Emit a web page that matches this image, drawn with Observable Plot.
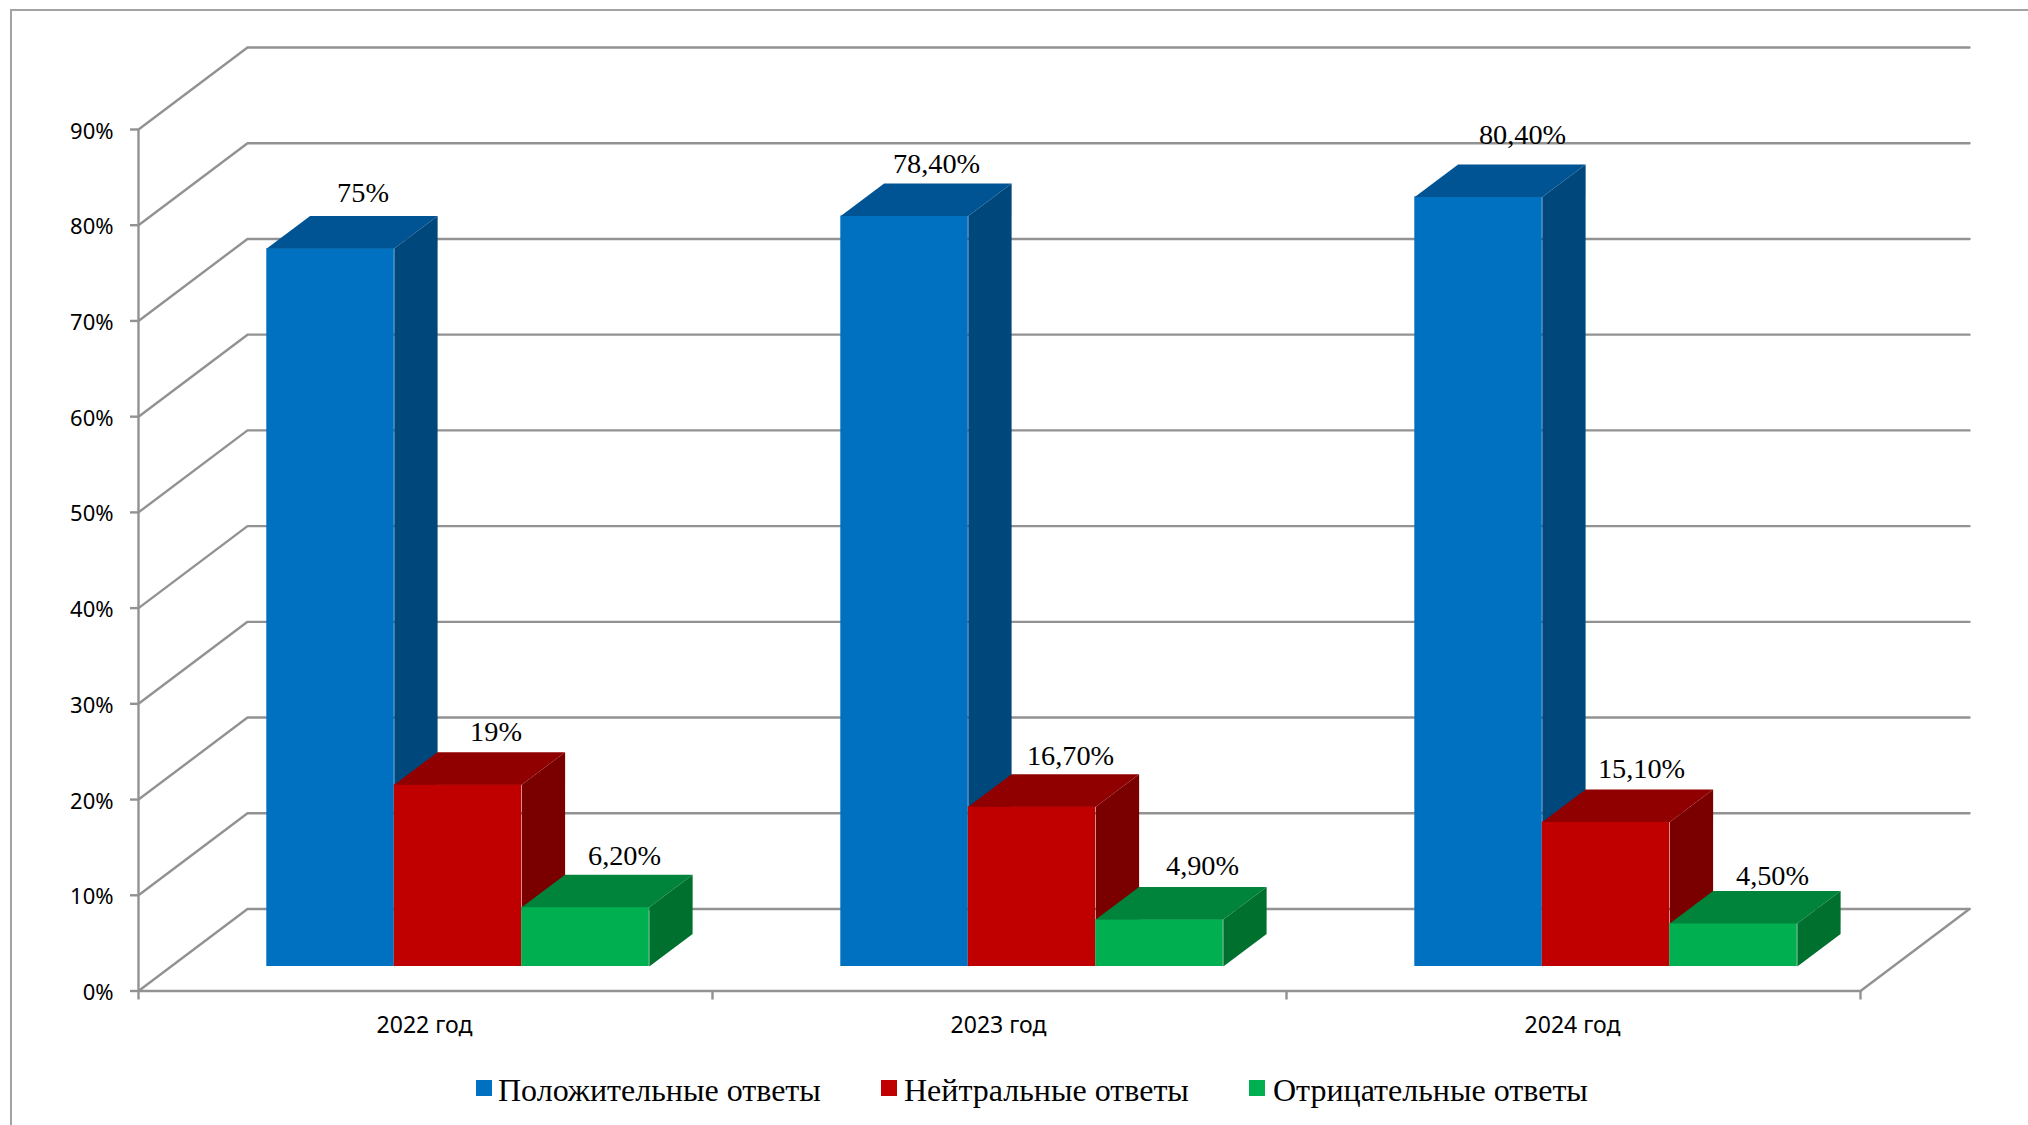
<!DOCTYPE html>
<html lang="ru">
<head>
<meta charset="utf-8">
<title>Chart</title>
<script src="https://cdn.jsdelivr.net/npm/d3@7"></script>
<script src="https://cdn.jsdelivr.net/npm/@observablehq/plot@0.6"></script>
<style>
html,body{margin:0;padding:0;background:#fff;width:2028px;height:1125px;overflow:hidden;position:relative}
svg{display:block}
#frame{position:absolute;left:10px;top:9px;right:0;bottom:0;border-left:2px solid #a3a3a3;border-top:2px solid #a3a3a3;pointer-events:none}
#legend{position:absolute;left:0;top:1040px;height:85px;width:2028px;font-family:"Liberation Serif",serif;font-size:32px;color:#000}
.item{position:absolute;top:30px;line-height:40px;white-space:nowrap}
.sw{position:absolute;top:40px;width:16px;height:16px}
</style>
</head>
<body>
<div id="chart"></div>
<div id="legend"></div>
<div id="frame"></div>
<script>
const categories = ["2022 год", "2023 год", "2024 год"];
const seriesNames = ["Положительные ответы", "Нейтральные ответы", "Отрицательные ответы"];
const positive = [75, 78.4, 80.4];
const neutral = [19, 16.7, 15.1];
const negative = [6.2, 4.9, 4.5];
const valueLabels = [
  ["75%", "78,40%", "80,40%"],
  ["19%", "16,70%", "15,10%"],
  ["6,20%", "4,90%", "4,50%"]
];
const yTicks = [0, 10, 20, 30, 40, 50, 60, 70, 80, 90];

const frontColors = ["#0070C0", "#C00000", "#00B050"];
const topColors = ["#005494", "#900000", "#00843C"];
const sideColors = ["#00477B", "#7A0000", "#00702F"];

// layout, in pixels
const W = 2028, H = 1040, left = 138, right = 1860, yTop = 129, yZero = 990.5;
const pxX = (right - left) / 3, pxY = (yZero - yTop) / 90;
const u = p => p / pxX, v = p => p / pxY;
const wallX = u(109), wallY = v(82);
const depthX = u(43.3), depthY = v(32.5);
const barStart = u(128.3), barWidth = u(127.5), barBase = v(24.5);
const labelShift = [[32.5, 32, 44], [38, 38.5, 35.5], [39, 43, 39]];
const labelRise = [[23, 19.2, 29.5], [19.7, 18.7, 21], [19, 21, 15]];

const seriesValues = [positive, neutral, negative];

const wallLines = yTicks.flatMap(t => [
  {k: t, x: 0, y: t},
  {k: t, x: wallX, y: t + wallY},
  {k: t, x: 3 + wallX, y: t + wallY}
]);
const floorLine = [
  {x: 0, y: 0}, {x: 3, y: 0}, {x: 3 + wallX, y: wallY}
];

const barMarks = seriesValues.flatMap((vals, s) => {
  const bars = vals.map((val, i) => {
    const x1 = i + barStart + s * barWidth;
    return {i, x1, x2: x1 + barWidth, y1: barBase, y2: barBase + val};
  });
  const top = bars.flatMap(b => [
    {k: b.i, x: b.x1, y: b.y2},
    {k: b.i, x: b.x2, y: b.y2},
    {k: b.i, x: b.x2 + depthX, y: b.y2 + depthY},
    {k: b.i, x: b.x1 + depthX, y: b.y2 + depthY}
  ]);
  const side = bars.flatMap(b => [
    {k: b.i, x: b.x2, y: b.y1},
    {k: b.i, x: b.x2 + depthX, y: b.y1 + depthY},
    {k: b.i, x: b.x2 + depthX, y: b.y2 + depthY},
    {k: b.i, x: b.x2, y: b.y2}
  ]);
  return [
    Plot.rect(bars, {x1: "x1", x2: "x2", y1: "y1", y2: "y2", fill: frontColors[s]}),
    Plot.line(top, {x: "x", y: "y", z: "k", fill: topColors[s], stroke: "none"}),
    Plot.line(side, {x: "x", y: "y", z: "k", fill: sideColors[s], stroke: "none"})
  ];
});

const labels = seriesValues.flatMap((vals, s) => vals.map((val, i) => ({
  text: valueLabels[s][i],
  x: i + barStart + (s + 0.5) * barWidth + u(labelShift[s][i]),
  y: barBase + val + depthY + v(labelRise[s][i])
})));

const gridColor = "#929292";
const gridWidth = 2.4;
const chart = Plot.plot({
  width: W, height: H,
  marginLeft: left, marginRight: W - right, marginTop: yTop, marginBottom: H - yZero,
  style: {background: "#fff", color: "#000", fontFamily: "'Noto Sans', sans-serif", fontSize: "22px", overflow: "visible"},
  x: {domain: [0, 3], label: null},
  y: {domain: [0, 90], label: null},
  marks: [
    Plot.line(wallLines, {x: "x", y: "y", z: "k", stroke: gridColor, strokeWidth: gridWidth}),
    Plot.line(floorLine, {x: "x", y: "y", stroke: gridColor, strokeWidth: gridWidth}),
    Plot.ruleX([0], {y1: 0, y2: 90, stroke: gridColor, strokeWidth: gridWidth}),
    Plot.ruleY(yTicks, {x1: u(-8), x2: 0, stroke: gridColor, strokeWidth: gridWidth}),
    Plot.ruleX([0, 1, 2, 3], {y1: v(-9), y2: 0, stroke: gridColor, strokeWidth: gridWidth}),
    Plot.axisY({ticks: yTicks, tickSize: 0, tickPadding: 25, dy: 2, fontSize: 22, tickFormat: d => d + "%", fill: "#000", label: null}),
    Plot.axisX({ticks: [0.5, 1.5, 2.5], tickSize: 0, tickPadding: 26, dx: -1, fontSize: 23, tickFormat: d => categories[Math.floor(d)], fill: "#000", label: null}),
    ...barMarks,
    Plot.text(labels, {x: "x", y: "y", text: "text", fontFamily: "'Liberation Serif', serif", fontSize: 28.3, fill: "#000", textAnchor: "middle"})
  ]
});
document.getElementById("chart").append(chart);

const legendPos = [[476, 498], [881, 904], [1249, 1273]];
const legend = document.getElementById("legend");
seriesNames.forEach((name, s) => {
  const item = document.createElement("div");
  item.className = "item";
  item.style.left = legendPos[s][1] + "px";
  item.textContent = name;
  const sw = document.createElement("div");
  sw.className = "sw";
  sw.style.left = legendPos[s][0] + "px";
  sw.style.background = frontColors[s];
  legend.append(sw, item);
});
</script>
</body>
</html>
